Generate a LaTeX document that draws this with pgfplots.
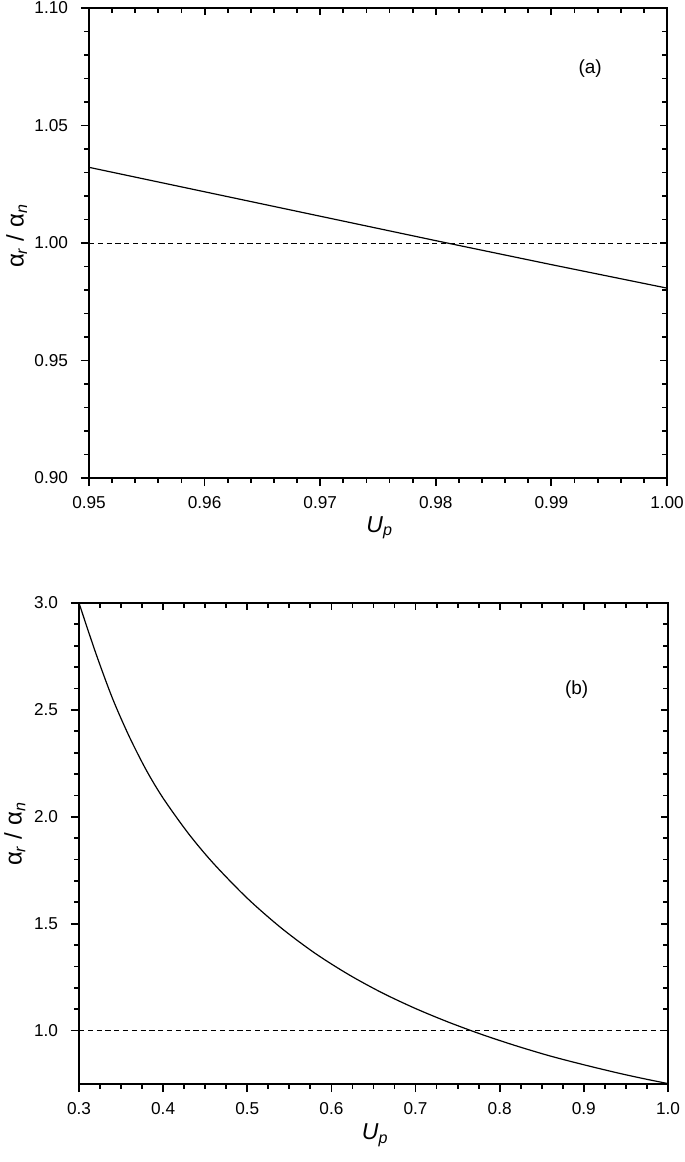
\documentclass[border=0pt]{standalone}
\usepackage{fontspec}
\setmainfont{Liberation Sans}
\usepackage{pgfplots}
\pgfplotsset{compat=1.18}

% common look of both panels (1 px of the reference = 0.5pt)
\pgfplotsset{
  panel/.style={
    scale only axis,
    clip=false,
    axis line style={line width=0.9pt},
    tick style={line width=0.9pt, black},
    major tick length=4pt,
    minor tick length=2.3pt,
    tick label style={font=\fontsize{8.6}{10}\selectfont},
    /pgf/number format/assume math mode=true,
  },
  outerticks/.style={panel, tick align=outside, xtick pos=bottom, ytick pos=left,
    xticklabel style={yshift=-1.5pt}, yticklabel style={xshift=-3pt}},
  innerticks/.style={panel, tick align=inside, xtick pos=top, ytick pos=right,
    major tick length=3.5pt, minor tick length=2.3pt,
    xticklabels={}, yticklabels={}, tick label style={opacity=0}},
}

\newcommand{\ylab}{α\textsubscript{\itshape r} / α\textsubscript{\itshape n}}
\newcommand{\xlab}{\textit{U}\textsubscript{\itshape p}}

\begin{document}
\begin{tikzpicture}
\useasboundingbox (0,0) rectangle (342.5pt,-581pt);

% ---------- panel (a) ----------
\pgfplotsset{pa/.style={
  width=289pt, height=235pt,
  at={(44.5pt,-4pt)}, anchor=north west,
  xmin=0.95, xmax=1.00, ymin=0.90, ymax=1.10,
  xtick={0.95,0.96,0.97,0.98,0.99,1.00},
  ytick={0.90,0.95,1.00,1.05,1.10},
  minor x tick num=4, minor y tick num=4,
}}
\begin{axis}[outerticks, pa,
  xticklabel style={/pgf/number format/.cd, fixed, fixed zerofill, precision=2},
  yticklabel style={/pgf/number format/.cd, fixed, fixed zerofill, precision=2}]
\addplot[black, line width=0.6pt] coordinates {
  (0.95,1.0322) (0.96,1.0218) (0.97,1.0114) (0.98,1.0010) (0.99,0.9908) (1.00,0.9808)
};
\addplot[black, line width=0.5pt, dash pattern=on 2.6pt off 1.8pt] coordinates {(0.95,1.0) (1.00,1.0)};
\node at (axis description cs:0.867,0.872) {\fontsize{9.5}{11}\selectfont (a)};
\node at (axis description cs:0.503,-0.106) {\fontsize{11.5}{12}\selectfont\xlab};
\node[rotate=90] at (axis description cs:-0.125,0.515) {\fontsize{12}{13}\selectfont\ylab};
\end{axis}
\begin{axis}[innerticks, pa]
\end{axis}

% ---------- panel (b) ----------
\pgfplotsset{pb/.style={
  width=294.5pt, height=240.5pt,
  at={(39.5pt,-301.5pt)}, anchor=north west,
  xmin=0.3, xmax=1.0, ymin=0.75, ymax=3.0,
  xtick={0.3,0.4,0.5,0.6,0.7,0.8,0.9,1.0},
  ytick={1.0,1.5,2.0,2.5,3.0},
  minor x tick num=3, minor y tick num=4,
}}
\begin{axis}[outerticks, pb,
  xticklabel style={/pgf/number format/.cd, fixed, fixed zerofill, precision=1},
  yticklabel style={/pgf/number format/.cd, fixed, fixed zerofill, precision=1}]
\addplot[black, line width=0.6pt, smooth] coordinates {
  (0.30,3.000) (0.32,2.765) (0.34,2.552) (0.36,2.373) (0.38,2.218)
  (0.40,2.087) (0.43,1.922) (0.46,1.781) (0.50,1.619) (0.54,1.481)
  (0.58,1.363) (0.62,1.263) (0.66,1.177) (0.70,1.103) (0.74,1.038)
  (0.78,0.980) (0.82,0.928) (0.86,0.881) (0.90,0.840) (0.94,0.802)
  (0.97,0.776) (1.00,0.752)
};
\addplot[black, line width=0.5pt, dash pattern=on 2.6pt off 1.8pt] coordinates {(0.3,1.0) (1.0,1.0)};
\node at (axis description cs:0.845,0.819) {\fontsize{9.5}{11}\selectfont (b)};
\node at (axis description cs:0.503,-0.106) {\fontsize{11.5}{12}\selectfont\xlab};
\node[rotate=90] at (axis description cs:-0.109,0.52) {\fontsize{12}{13}\selectfont\ylab};
\end{axis}
\begin{axis}[innerticks, pb]
\end{axis}
\end{tikzpicture}
\end{document}
